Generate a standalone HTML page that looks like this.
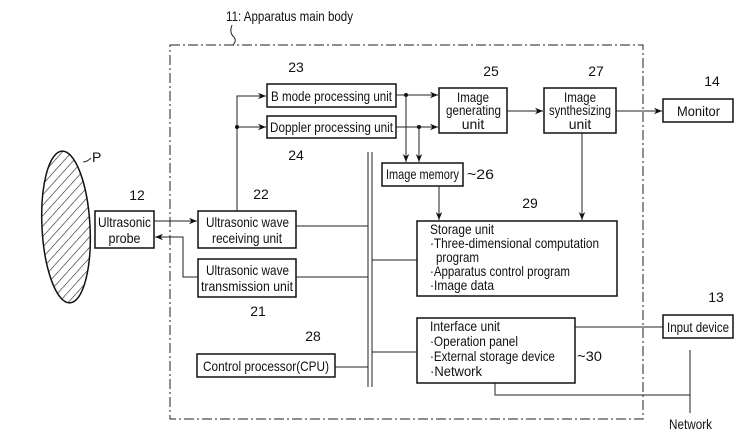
<!DOCTYPE html>
<html><head><meta charset="utf-8"><style>
html,body{margin:0;padding:0;background:#fff;}
svg{display:block;}
text{font-family:"Liberation Sans",sans-serif;font-size:14px;fill:#111;}
.b{fill:#fff;stroke:#111;stroke-width:1.5;}
.l{stroke:#222;stroke-width:1;fill:none;}
</style></head><body>
<svg width="750" height="435" viewBox="0 0 750 435" xmlns="http://www.w3.org/2000/svg">
<defs>
<marker id="a" viewBox="0 0 10 10" refX="10" refY="5" markerWidth="8" markerHeight="8" orient="auto" markerUnits="userSpaceOnUse"><path d="M0,1 L10,5 L0,9 L3,5 z" fill="#111"/></marker>
<pattern id="h" width="7" height="7" patternUnits="userSpaceOnUse" patternTransform="rotate(45)"><line x1="0" y1="0" x2="0" y2="7" stroke="#222" stroke-width="1.2"/></pattern>
</defs>
<rect x="170" y="45" width="473" height="374" fill="none" stroke="#222" stroke-width="1" stroke-dasharray="10,3,2,3"/>
<text x="226" y="21" textLength="127" lengthAdjust="spacingAndGlyphs">11: Apparatus main body</text>
<path class="l" d="M232,25 q-3,8 2,12 q3,4 -1,8"/>
<ellipse cx="66" cy="227" rx="24" ry="76" fill="url(#h)" stroke="#111" stroke-width="1.5" transform="rotate(-3 66 227)"/>
<text x="92" y="162">P</text>
<path class="l" d="M83,162 q4,0 8,-4"/>
<rect class="b" x="95" y="211" width="59" height="37"/>
<text x="98" y="227" textLength="53" lengthAdjust="spacingAndGlyphs">Ultrasonic</text>
<text x="124.5" y="243" text-anchor="middle" textLength="32" lengthAdjust="spacingAndGlyphs">probe</text>
<text x="137" y="200" text-anchor="middle">12</text>
<rect class="b" x="198" y="211" width="98" height="37"/>
<text x="206" y="227" textLength="83" lengthAdjust="spacingAndGlyphs">Ultrasonic wave</text>
<text x="212" y="243" textLength="70" lengthAdjust="spacingAndGlyphs">receiving unit</text>
<text x="261" y="199" text-anchor="middle">22</text>
<rect class="b" x="198" y="259" width="98" height="38"/>
<text x="206" y="275" textLength="83" lengthAdjust="spacingAndGlyphs">Ultrasonic wave</text>
<text x="201" y="291" textLength="92" lengthAdjust="spacingAndGlyphs">transmission unit</text>
<text x="258" y="316" text-anchor="middle">21</text>
<rect class="b" x="267" y="84" width="129" height="23"/>
<text x="271" y="101" textLength="121" lengthAdjust="spacingAndGlyphs">B mode processing unit</text>
<text x="296" y="72" text-anchor="middle">23</text>
<rect class="b" x="267" y="116" width="129" height="22"/>
<text x="270" y="132" textLength="123" lengthAdjust="spacingAndGlyphs">Doppler processing unit</text>
<text x="296" y="160" text-anchor="middle">24</text>
<rect class="b" x="439" y="88" width="68" height="45"/>
<text x="473" y="102" text-anchor="middle" textLength="32" lengthAdjust="spacingAndGlyphs">Image</text>
<text x="446" y="115" textLength="55" lengthAdjust="spacingAndGlyphs">generating</text>
<text x="473" y="129" text-anchor="middle">unit</text>
<text x="491" y="76" text-anchor="middle">25</text>
<rect class="b" x="544" y="88" width="72" height="45"/>
<text x="580" y="102" text-anchor="middle" textLength="32" lengthAdjust="spacingAndGlyphs">Image</text>
<text x="549" y="115" textLength="62" lengthAdjust="spacingAndGlyphs">synthesizing</text>
<text x="580" y="129" text-anchor="middle">unit</text>
<text x="596" y="76" text-anchor="middle">27</text>
<rect class="b" x="663" y="99" width="70" height="23"/>
<text x="677" y="116" textLength="43" lengthAdjust="spacingAndGlyphs">Monitor</text>
<text x="712" y="86" text-anchor="middle">14</text>
<rect class="b" x="382" y="163" width="81" height="23"/>
<text x="386" y="179" textLength="73" lengthAdjust="spacingAndGlyphs">Image memory</text>
<text x="467" y="179" textLength="27" lengthAdjust="spacingAndGlyphs">~26</text>
<rect class="b" x="417" y="221" width="200" height="75"/>
<text x="430" y="234" textLength="64" lengthAdjust="spacingAndGlyphs">Storage unit</text>
<text x="430" y="248" textLength="169" lengthAdjust="spacingAndGlyphs">·Three-dimensional computation</text>
<text x="436" y="262" textLength="43" lengthAdjust="spacingAndGlyphs">program</text>
<text x="430" y="276" textLength="140" lengthAdjust="spacingAndGlyphs">·Apparatus control program</text>
<text x="430" y="290" textLength="64" lengthAdjust="spacingAndGlyphs">·Image data</text>
<text x="530" y="208" text-anchor="middle">29</text>
<rect class="b" x="417" y="318" width="158" height="65"/>
<text x="430" y="331" textLength="70" lengthAdjust="spacingAndGlyphs">Interface unit</text>
<text x="430" y="346" textLength="88" lengthAdjust="spacingAndGlyphs">·Operation panel</text>
<text x="430" y="361" textLength="125" lengthAdjust="spacingAndGlyphs">·External storage device</text>
<text x="430" y="376" textLength="52" lengthAdjust="spacingAndGlyphs">·Network</text>
<text x="577" y="361" textLength="25" lengthAdjust="spacingAndGlyphs">~30</text>
<rect class="b" x="197" y="354" width="138" height="23"/>
<text x="203" y="371" textLength="126" lengthAdjust="spacingAndGlyphs">Control processor(CPU)</text>
<text x="313" y="341" text-anchor="middle">28</text>
<rect class="b" x="663" y="315" width="70" height="23"/>
<text x="667" y="332" textLength="62" lengthAdjust="spacingAndGlyphs">Input device</text>
<text x="716" y="302" text-anchor="middle">13</text>
<text x="669" y="429" textLength="43" lengthAdjust="spacingAndGlyphs">Network</text>
<line class="l" x1="368" y1="152" x2="368" y2="387" stroke-width="1.5"/>
<line class="l" x1="372" y1="152" x2="372" y2="387" stroke-width="1.5"/>
<line class="l" x1="154" y1="221" x2="197" y2="221" marker-end="url(#a)"/>
<polyline class="l" points="198,277 183,277 183,237 155,237" marker-end="url(#a)"/>
<line class="l" x1="296" y1="226" x2="368" y2="226"/>
<line class="l" x1="296" y1="277" x2="368" y2="277"/>
<line class="l" x1="335" y1="367" x2="368" y2="367"/>
<line class="l" x1="372" y1="260" x2="417" y2="260"/>
<line class="l" x1="372" y1="352" x2="417" y2="352"/>
<polyline class="l" points="237,211 237,96 266,96" marker-end="url(#a)"/>
<line class="l" x1="237" y1="127" x2="266" y2="127" marker-end="url(#a)"/>
<circle cx="237" cy="127" r="2" fill="#111"/>
<line class="l" x1="396" y1="95" x2="438" y2="95" marker-end="url(#a)"/>
<line class="l" x1="396" y1="127" x2="438" y2="127" marker-end="url(#a)"/>
<circle cx="406" cy="95" r="2" fill="#111"/>
<circle cx="419" cy="127" r="2" fill="#111"/>
<line class="l" x1="406" y1="95" x2="406" y2="162" marker-end="url(#a)"/>
<line class="l" x1="419" y1="127" x2="419" y2="162" marker-end="url(#a)"/>
<line class="l" x1="439" y1="186" x2="439" y2="220" marker-end="url(#a)"/>
<line class="l" x1="507" y1="111" x2="543" y2="111" marker-end="url(#a)"/>
<line class="l" x1="616" y1="111" x2="662" y2="111" marker-end="url(#a)"/>
<line class="l" x1="582" y1="133" x2="582" y2="220" marker-end="url(#a)"/>
<line class="l" x1="575" y1="327" x2="663" y2="327"/>
<line class="l" x1="690" y1="350" x2="690" y2="413" stroke-width="1.5"/>
<polyline class="l" points="495,383 495,395 690,395"/>
</svg>
</body></html>
